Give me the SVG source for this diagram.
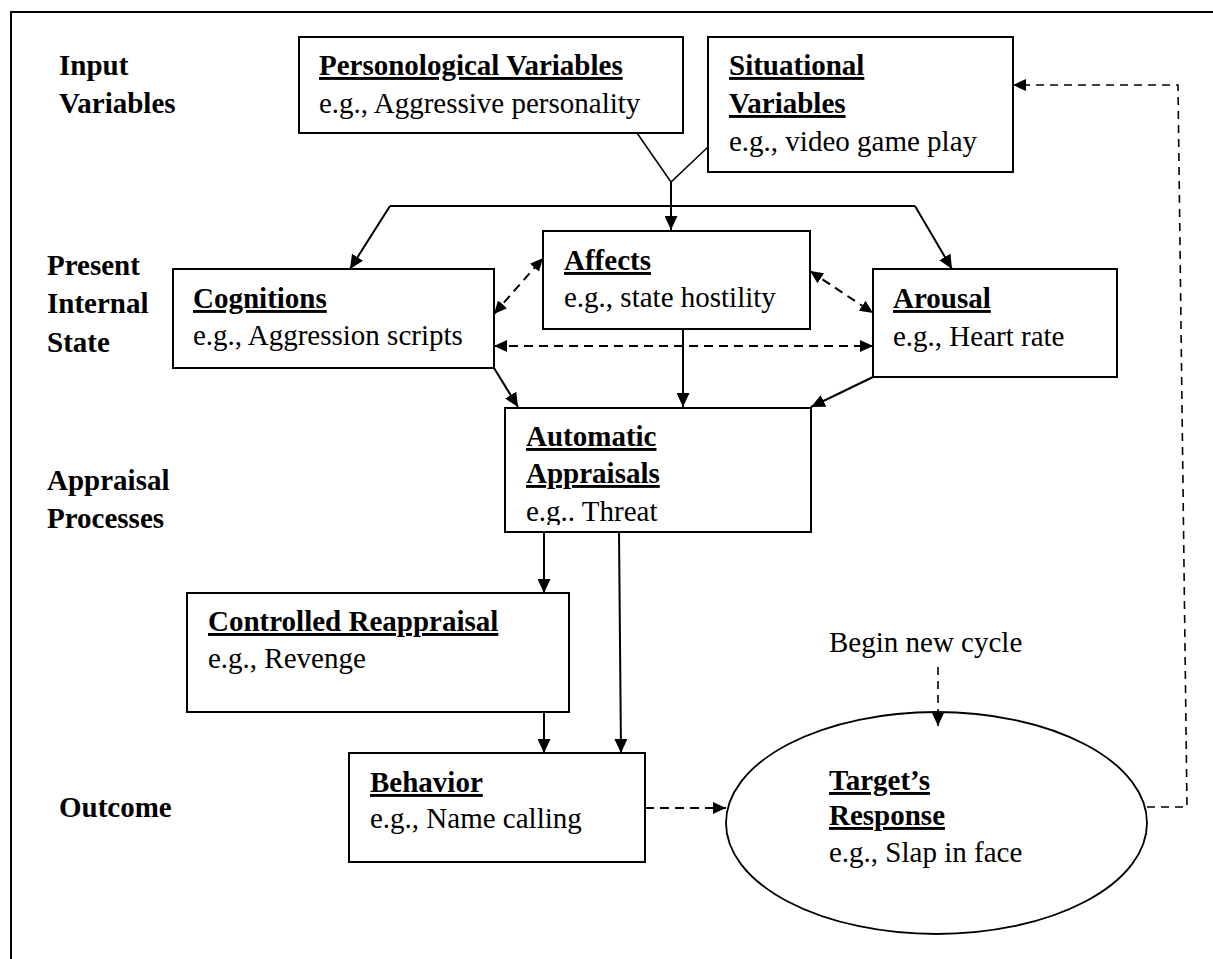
<svg xmlns="http://www.w3.org/2000/svg" width="1213" height="959" viewBox="0 0 1213 959">
<style>
  text { font-family: "Liberation Serif", "Times New Roman", serif; font-size: 29px; fill: #000; }
  .b { font-weight: bold; }
  .u { font-weight: bold; text-decoration: underline; }
  .box { fill: #fff; stroke: #000; stroke-width: 2; }
  .ln { fill: none; stroke: #000; stroke-width: 2; }
  .thin { fill: none; stroke: #000; stroke-width: 1.5; }
  .dash { fill: none; stroke: #000; stroke-width: 2; stroke-dasharray: 9 6; }
  .dash2 { fill: none; stroke: #000; stroke-width: 1.6; stroke-dasharray: 8 6; }
</style>
<defs>
  <marker id="ah" markerUnits="userSpaceOnUse" markerWidth="14" markerHeight="13" refX="14" refY="6.5" orient="auto-start-reverse">
    <path d="M0,0 L14,6.5 L0,13 z" fill="#000"/>
  </marker>
  <marker id="ahs" markerUnits="userSpaceOnUse" markerWidth="13" markerHeight="12" refX="13" refY="6" orient="auto-start-reverse">
    <path d="M0,0 L13,6 L0,12 z" fill="#000"/>
  </marker>
  <clipPath id="clipAuto"><rect x="505" y="408" width="306" height="117"/></clipPath>
</defs>
<rect width="1213" height="959" fill="#fff"/>
<path d="M11,959 L11,12 L1213,12" fill="none" stroke="#000" stroke-width="2"/>

<g id="labels">
  <text class="b" x="59" y="75">Input</text>
  <text class="b" x="59" y="113">Variables</text>
  <text class="b" x="47" y="275">Present</text>
  <text class="b" x="47" y="313">Internal</text>
  <text class="b" x="47" y="352">State</text>
  <text class="b" x="47" y="490">Appraisal</text>
  <text class="b" x="47" y="528">Processes</text>
  <text class="b" x="59" y="817">Outcome</text>
</g>

<g id="personological">
  <rect class="box" x="299" y="37" width="384" height="96"/>
  <text class="u" x="319" y="75">Personological Variables</text>
  <text x="319" y="113">e.g., Aggressive personality</text>
</g>
<g id="situational">
  <rect class="box" x="708" y="37" width="305" height="135"/>
  <text class="u" x="729" y="75">Situational</text>
  <text class="u" x="729" y="113">Variables</text>
  <text x="729" y="151">e.g., video game play</text>
</g>
<g id="cognitions">
  <rect class="box" x="173" y="269" width="321" height="99"/>
  <text class="u" x="193" y="308">Cognitions</text>
  <text x="193" y="345">e.g., Aggression scripts</text>
</g>
<g id="affects">
  <rect class="box" x="543" y="231" width="267" height="98"/>
  <text class="u" x="564" y="270">Affects</text>
  <text x="564" y="307">e.g., state hostility</text>
</g>
<g id="arousal">
  <rect class="box" x="873" y="269" width="244" height="108"/>
  <text class="u" x="893" y="308">Arousal</text>
  <text x="893" y="346">e.g., Heart rate</text>
</g>
<g id="automatic">
  <rect class="box" x="505" y="408" width="306" height="124"/>
  <text class="u" x="526" y="446">Automatic</text>
  <text class="u" x="526" y="483">Appraisals</text>
  <text x="526" y="521" clip-path="url(#clipAuto)">e.g.. Threat</text>
</g>
<g id="controlled">
  <rect class="box" x="187" y="593" width="382" height="119"/>
  <text class="u" x="208" y="631">Controlled Reappraisal</text>
  <text x="208" y="668">e.g., Revenge</text>
</g>
<g id="behavior">
  <rect class="box" x="349" y="753" width="296" height="109"/>
  <text class="u" x="370" y="792">Behavior</text>
  <text x="370" y="828">e.g., Name calling</text>
</g>
<g id="target">
  <ellipse cx="936.5" cy="823" rx="210.5" ry="111" fill="#fff" stroke="#000" stroke-width="1.8"/>
  <text class="u" x="829" y="790">Target’s</text>
  <text class="u" x="829" y="825">Response</text>
  <text x="829" y="862">e.g., Slap in face</text>
</g>
<g id="begin">
  <text x="829" y="652">Begin new cycle</text>
</g>

<g id="connectors">
  <path class="thin" d="M637,133 L671,182 L708,147"/>
  <path class="ln" d="M671,182 L671,230" marker-end="url(#ah)"/>
  <path class="ln" d="M390,206 L915,206"/>
  <path class="ln" d="M390,206 L350,269" marker-end="url(#ah)"/>
  <path class="ln" d="M915,206 L952,269" marker-end="url(#ah)"/>
  <path class="ln" d="M494,368 L518,407" marker-end="url(#ah)"/>
  <path class="ln" d="M683,329 L683,407" marker-end="url(#ah)"/>
  <path class="ln" d="M873,377 L811,407" marker-end="url(#ah)"/>
  <path class="ln" d="M544,532 L544,593" marker-end="url(#ah)"/>
  <path class="ln" d="M619,532 L621,753" marker-end="url(#ah)"/>
  <path class="ln" d="M544,712 L544,753" marker-end="url(#ah)"/>
  <path class="dash" d="M494,314 L543,258" marker-start="url(#ahs)" marker-end="url(#ahs)"/>
  <path class="dash" d="M810,271 L873,313" marker-start="url(#ahs)" marker-end="url(#ahs)"/>
  <path class="dash" d="M494,346 L873,346" marker-start="url(#ahs)" marker-end="url(#ahs)"/>
  <path class="dash" d="M645,808 L726,808" marker-end="url(#ahs)"/>
  <path class="dash2" d="M938,667 L938,726" marker-end="url(#ahs)"/>
  <path class="dash2" d="M1147,807 L1187,807 L1178,85 L1013,85" marker-end="url(#ahs)"/>
</g>
</svg>
